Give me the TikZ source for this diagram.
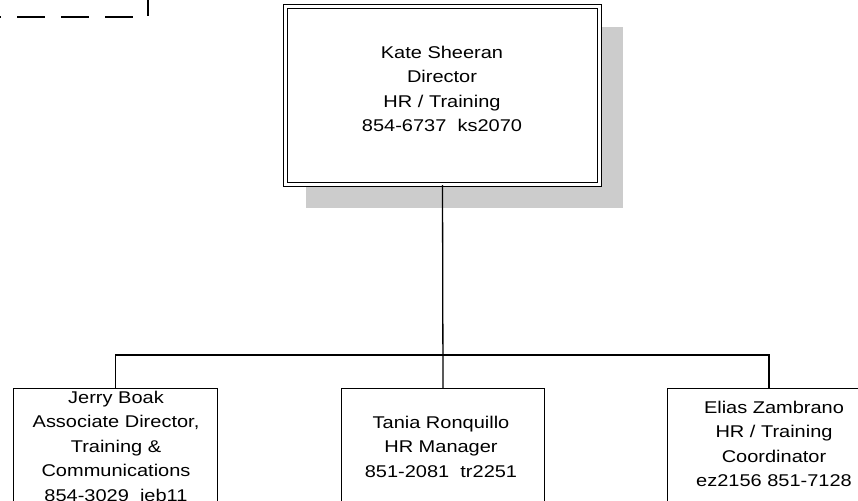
\documentclass[tikz,border=0pt]{standalone}
\usepackage{fontspec}
\setmainfont{Liberation Sans}[FakeStretch=1.176]
\begin{document}
\begin{tikzpicture}[x=1pt,y=-1pt,
  box/.style={draw=black,line width=1pt,fill=white,inner sep=0pt,anchor=north west},
  label/.style={align=center,inner sep=0pt,anchor=north,font=\fontsize{17}{24.5}\selectfont},
  conn/.style={draw=black,line width=1.3pt}]
\fill[white] (0,0) rectangle (858,500);
\clip (0,0) rectangle (858,500);
% dashed frame corner (top-left)
\draw[line width=1.2pt,dash pattern=on 28pt off 16pt,dash phase=6pt] (-200,-200) rectangle (148,17);
% shadow
\fill[black!20] (306,27) rectangle (623,208);
% boxes
\node[box,double,double distance=2.2pt,line width=1pt,minimum width=314pt,minimum height=178pt] (top) at (285,6) {};
\node[box,minimum width=204pt,minimum height=140pt] (left) at (13,388) {};
\node[box,minimum width=203pt,minimum height=140pt] (mid) at (341,388) {};
\node[box,minimum width=230pt,minimum height=140pt] (right) at (667,388) {};
% texts
\node[label] (ttop) at (442,45.5) {Kate Sheeran\\Director\\HR / Training\\854-6737\ \ ks2070};
\node[label] (tleft) at (116,390.5) {Jerry Boak\\Associate Director,\\Training \&\\Communications\\854-3029\ \ jeb11};
\node[label] (tmid) at (441,415.5) {Tania Ronquillo\\HR Manager\\851-2081\ \ tr2251};
\node[label] (tright) at (774,400.5) {Elias Zambrano\\HR / Training\\Coordinator\\ez2156 851-7128};
% connectors
\draw[conn] (top.south) -- (mid.north);
\coordinate (rtop) at (769,388);
\draw[conn] (left.north) -- ++(0,-33) coordinate (bar) -| (rtop);
\end{tikzpicture}
\end{document}
